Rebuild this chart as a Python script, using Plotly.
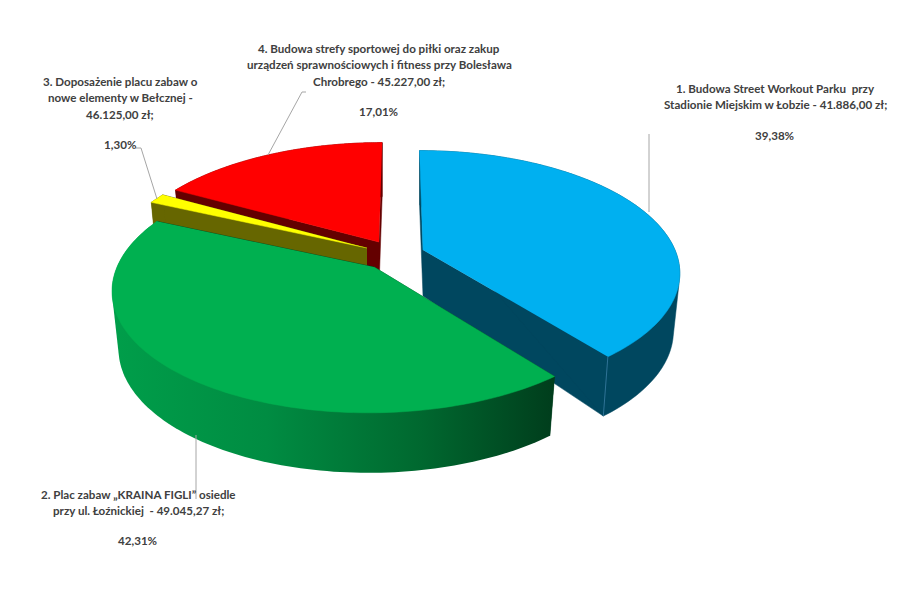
import numpy as np
import plotly.graph_objects as go

# Chart data
shares = [39.38, 42.31, 1.30, 17.01]
label_lines = [
    ["1. Budowa Street Workout Parku \u00a0przy", "Stadionie Miejskim w Łobzie - 41.886,00 zł;"],
    ["2. Plac zabaw „KRAINA FIGLI” osiedle", "przy ul. Łoźnickiej \u00a0- 49.045,27 zł;"],
    ["3. Doposażenie placu zabaw o", "nowe elementy w Bełcznej -", "46.125,00 zł;"],
    ["4. Budowa strefy sportowej do piłki oraz zakup", "urządzeń sprawnościowych i fitness przy Bolesława", "Chrobrego - 45.227,00 zł;"],
]
share_labels = ["39,38%", "42,31%", "1,30%", "17,01%"]

# Colours per slice
top_colors = ["#00b0f0", "#00b050", "#ffff00", "#ff0000"]
wall_colors = ["#00475f", "#003d1c", "#666600", "#640000"]
green_wall_scale = [[0, "#009e4a"], [0.35, "#008c42"], [0.7, "#00682f"], [1, "#003d1c"]]

# Pie geometry in page pixels (exploded centres, perspective)
centers = [(423, 250), (374, 267), (367, 248), (379, 242)]
radius_x = [252, 257, 256, 254]
radius_y = [117, 120, 120, 117]
persp = 0.177
vanish_x = 400
depth = 46
rim_extra = 11
front_extra = 3
bottom_sx = 0.975

# Label placement
label_x = [775, 138, 120, 379]
label_y = [88, 494, 81, 48]
share_y = [135, 540, 144, 111]
line_step = 16.5
leaders = [
    ([649, 649], [134, 212]),
    ([196, 196], [435, 499]),
    ([136, 141, 157], [148, 148, 199]),
    ([306, 302, 268], [92, 92, 155]),
]

fractions = np.array(shares) / sum(shares)
edges = np.concatenate([[0], np.cumsum(fractions)]) * 2 * np.pi


# Projects a point on the pie plane, radial 0..1, angle clockwise from the back
def project(i, theta, r=1.0, bottom=False):
    cx, cy = centers[i]
    u = r * np.sin(theta)
    v = -r * np.cos(theta)
    w = 1 / (1 - persp * v)
    sx = bottom_sx if bottom else 1
    x = vanish_x + (cx - vanish_x) * w + radius_x[i] * sx * u * w
    y = cy + radius_y[i] * v * w
    if bottom:
        y = y + depth + r * rim_extra + front_extra * v
    return x, y


# Convex hull of the two rims, gives the outer wall with its straight tangent edges
def hull(xs, ys):
    pts = sorted(set(zip(xs.tolist(), ys.tolist())))

    def half(points):
        out = []
        for p in points:
            while len(out) > 1 and (out[-1][0] - out[-2][0]) * (p[1] - out[-2][1]) - (out[-1][1] - out[-2][1]) * (p[0] - out[-2][0]) <= 0:
                out.pop()
            out.append(p)
        return out[:-1]

    ring = half(pts) + half(pts[::-1])
    return [p[0] for p in ring], [p[1] for p in ring]


def polygon(xs, ys, color, gradient=None):
    kw = dict(fillgradient=gradient) if gradient else dict(fillcolor=color)
    width = 0 if gradient else 0.5
    return go.Scatter(x=xs, y=ys, mode="lines", fill="toself",
                      line=dict(width=width, color=color, simplify=False),
                      hoverinfo="skip", showlegend=False, **kw)


fig = go.Figure()

# Back to front: blue, red, yellow, green
for i in [0, 3, 2, 1]:
    t = np.linspace(edges[i], edges[i + 1], 120)
    tx, ty = project(i, t)
    bx, by = project(i, t, bottom=True)
    ax, ay = project(i, 0, 0)
    abx, aby = project(i, 0, 0, bottom=True)

    # radial walls
    for k in [0, -1]:
        fig.add_trace(polygon([ax, tx[k], bx[k], abx], [ay, ty[k], by[k], aby], wall_colors[i]))

    # outer wall
    gradient = None
    if i == 1:
        gradient = dict(type="horizontal", colorscale=green_wall_scale)
    wx, wy = hull(np.concatenate([tx, bx]), np.concatenate([ty, by]))
    fig.add_trace(polygon(wx, wy, wall_colors[i], gradient))

    # top face
    fig.add_trace(polygon([ax] + list(tx), [ay] + list(ty), top_colors[i]))

    # lighter seam on the blue corner
    if i == 0:
        fig.add_trace(go.Scatter(x=[tx[-1], bx[-1]], y=[ty[-1], by[-1]], mode="lines",
                                 line=dict(width=1, color="#2f7396"), hoverinfo="skip", showlegend=False))

for xs, ys in leaders:
    fig.add_trace(go.Scatter(x=xs, y=ys, mode="lines", line=dict(width=1, color="#a6a6a6"),
                             hoverinfo="skip", showlegend=False))

for i in range(len(shares)):
    for n, line in enumerate(label_lines[i]):
        fig.add_annotation(x=label_x[i], y=label_y[i] + n * line_step, text="<b>" + line + "</b>", showarrow=False,
                           xanchor="center", yanchor="middle", bgcolor="rgba(0,0,0,0)")
    fig.add_annotation(x=label_x[i], y=share_y[i], text="<b>" + share_labels[i] + "</b>", showarrow=False,
                       xanchor="center", yanchor="middle")

fig.update_layout(
    width=905, height=600, margin=dict(l=0, r=0, t=0, b=0),
    paper_bgcolor="white", plot_bgcolor="white",
    font=dict(family="Lato", size=11.6, color="#404040"),
    xaxis=dict(range=[0, 905], visible=False, fixedrange=True),
    yaxis=dict(range=[600, 0], visible=False, fixedrange=True),
)
fig.write_html("out.html", config=dict(displayModeBar=False),
               post_script="document.body.style.margin='0';")
